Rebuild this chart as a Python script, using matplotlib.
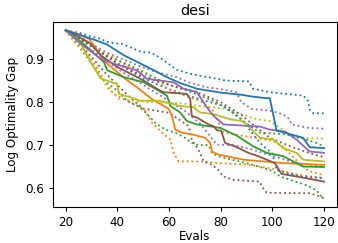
import matplotlib
matplotlib.use("Agg")
import matplotlib.pyplot as plt

plt.rcParams["font.size"] = 8.6
plt.rcParams["xtick.major.size"] = 3
plt.rcParams["ytick.major.size"] = 3

# solid runs: (evals, log optimality gap) breakpoints
blue_x = [20, 26, 31, 36, 42.5, 51.5, 59.2, 64, 70.8, 80, 88, 92, 97.8, 99, 101.6, 111.9, 114.4, 120]
blue_y = [0.967, 0.955, 0.945, 0.934, 0.909, 0.882, 0.858, 0.845, 0.831, 0.822, 0.817, 0.813, 0.809, 0.809, 0.734, 0.717, 0.695, 0.693]

orange_x = [20, 24, 29, 35.4, 43.1, 48.3, 53.4, 59.9, 61.1, 62.4, 65, 68.8, 73.9, 75.9, 76.6, 79.1, 88.8, 104.2, 120]
orange_y = [0.967, 0.96, 0.948, 0.893, 0.854, 0.831, 0.807, 0.784, 0.768, 0.736, 0.729, 0.725, 0.717, 0.705, 0.685, 0.678, 0.666, 0.658, 0.654]

green_x = [20, 25, 29.6, 34.8, 36.1, 42.5, 50.2, 55, 59.2, 60.5, 64.3, 66.9, 70.8, 79.8, 86.2, 92.6, 97.8, 104.2, 111.9, 120]
green_y = [0.967, 0.945, 0.921, 0.893, 0.874, 0.858, 0.846, 0.83, 0.815, 0.791, 0.776, 0.756, 0.748, 0.740, 0.722, 0.697, 0.682, 0.674, 0.650, 0.649]

purple_x = [20, 26, 33.5, 38.7, 47.6, 51.5, 61.8, 65.6, 70.8, 74.6, 77.2, 81.1, 95.2, 99, 104.2, 105.4, 109.3, 114.4, 120]
purple_y = [0.967, 0.935, 0.901, 0.889, 0.874, 0.854, 0.846, 0.831, 0.823, 0.788, 0.768, 0.748, 0.743, 0.736, 0.732, 0.729, 0.713, 0.685, 0.682]

brown_x = [20, 24, 29.6, 33.5, 39.9, 45.1, 50.2, 55.3, 57.9, 66.9, 68.2, 68.8, 70.8, 75.3, 77.2, 78.5, 80.2, 81.7, 85.5, 90.7, 94.6, 101, 103.5, 111.2, 120]
brown_y = [0.967, 0.955, 0.936, 0.909, 0.882, 0.866, 0.850, 0.831, 0.823, 0.819, 0.807, 0.768, 0.764, 0.748, 0.744, 0.735, 0.733, 0.705, 0.697, 0.682, 0.674, 0.658, 0.633, 0.625, 0.615]

olive_x = [20, 26, 30, 33.5, 39.9, 40.6, 45.1, 48.9, 56.6, 64.3, 69.5, 72, 77.2, 83.6, 88.1, 90, 95.2, 100.3, 104.2, 109.3, 111.9, 120]
olive_y = [0.967, 0.935, 0.89, 0.855, 0.842, 0.819, 0.811, 0.803, 0.803, 0.791, 0.788, 0.776, 0.772, 0.760, 0.756, 0.748, 0.717, 0.713, 0.693, 0.682, 0.666, 0.662]

# dotted runs
blue_d1_x = [20, 26, 30, 33, 37, 42, 46, 49, 53, 56, 58, 63, 68, 73, 77, 82, 91, 92.5, 99, 112, 113.8, 114.4, 115.8, 120]
blue_d1_y = [0.967, 0.960, 0.952, 0.948, 0.938, 0.935, 0.925, 0.917, 0.915, 0.905, 0.897, 0.875, 0.866, 0.860, 0.856, 0.850, 0.848, 0.831, 0.823, 0.815, 0.803, 0.783, 0.774, 0.774]

blue_d2_x = [20, 30, 40, 50, 60, 70, 81, 88, 95.2, 100, 101.6, 110.6, 120]
blue_d2_y = [0.967, 0.93, 0.89, 0.855, 0.83, 0.81, 0.791, 0.76, 0.705, 0.68, 0.642, 0.627, 0.623]

orange_d1_x = [20, 24, 27, 32, 36, 38.7, 43.8, 50.2, 53.4, 57.3, 60.5, 61.8, 63.7, 74, 78.5, 90, 100, 110, 120]
orange_d1_y = [0.967, 0.945, 0.921, 0.882, 0.835, 0.819, 0.803, 0.784, 0.752, 0.729, 0.713, 0.682, 0.662, 0.662, 0.658, 0.655, 0.645, 0.631, 0.623]

orange_d2_x = [20, 25, 30, 37, 45, 52, 60, 66, 72, 77, 81, 90, 100, 104, 110, 114, 120]
orange_d2_y = [0.967, 0.95, 0.93, 0.909, 0.88, 0.86, 0.83, 0.815, 0.803, 0.78, 0.729, 0.72, 0.71, 0.697, 0.66, 0.64, 0.63]

green_d1_x = [20, 25, 31, 34.8, 39.9, 43.8, 48.9, 50.9, 54.6, 58.5, 62.4, 66.2, 68.8, 71.4, 75.3, 76.6, 79.1, 85, 92, 100, 103, 113, 117, 119.6, 120]
green_d1_y = [0.967, 0.93, 0.882, 0.850, 0.827, 0.803, 0.787, 0.776, 0.752, 0.736, 0.729, 0.717, 0.705, 0.700, 0.700, 0.682, 0.674, 0.665, 0.655, 0.64, 0.627, 0.607, 0.595, 0.576, 0.576]

green_d2_x = [20, 28, 35, 45, 51.5, 60, 70, 77, 84, 90, 95, 105, 112, 117, 120]
green_d2_y = [0.967, 0.94, 0.91, 0.885, 0.866, 0.84, 0.82, 0.803, 0.78, 0.75, 0.729, 0.725, 0.715, 0.705, 0.697]

purple_d1_x = [20, 25, 30, 36, 42, 48, 55, 63, 68, 74, 80, 86, 88, 92, 99, 104, 106.7, 107.4, 114, 120]
purple_d1_y = [0.967, 0.955, 0.935, 0.915, 0.900, 0.885, 0.870, 0.858, 0.845, 0.835, 0.830, 0.823, 0.800, 0.784, 0.780, 0.772, 0.760, 0.748, 0.740, 0.738]

purple_d2_x = [20, 28, 35, 42, 50, 58, 66, 72, 78.5, 85, 92, 100, 108, 120]
purple_d2_y = [0.967, 0.93, 0.90, 0.87, 0.84, 0.81, 0.78, 0.75, 0.701, 0.70, 0.69, 0.675, 0.66, 0.65]

brown_d1_x = [20, 25, 30, 35, 40, 45, 50, 55, 60, 63.7, 67.6, 68.8, 71.4, 73.4, 76.6, 79.1, 81, 85, 95, 96.5, 97.8, 114.4, 118.3, 120]
brown_d1_y = [0.967, 0.94, 0.905, 0.87, 0.84, 0.81, 0.785, 0.78, 0.775, 0.760, 0.744, 0.713, 0.689, 0.662, 0.654, 0.642, 0.627, 0.619, 0.615, 0.599, 0.589, 0.588, 0.581, 0.576]

brown_d2_x = [20, 30, 40, 50, 60, 70, 80, 88, 93, 99, 107, 115, 120]
brown_d2_y = [0.967, 0.93, 0.89, 0.86, 0.84, 0.825, 0.80, 0.77, 0.745, 0.717, 0.697, 0.68, 0.672]

olive_d1_x = [20, 24, 27, 31, 35, 38, 40.6, 52, 65, 73, 81, 88, 94, 99, 103, 109, 120]
olive_d1_y = [0.967, 0.935, 0.917, 0.88, 0.85, 0.825, 0.807, 0.80, 0.797, 0.79, 0.785, 0.772, 0.76, 0.756, 0.74, 0.717, 0.715]

dotted = [
    (blue_d1_x, blue_d1_y, "tab:blue"),
    (orange_d1_x, orange_d1_y, "tab:orange"),
    (green_d1_x, green_d1_y, "tab:green"),
    (purple_d1_x, purple_d1_y, "tab:purple"),
    (brown_d1_x, brown_d1_y, "tab:brown"),
    (olive_d1_x, olive_d1_y, "tab:olive"),
    (blue_d2_x, blue_d2_y, "tab:blue"),
    (orange_d2_x, orange_d2_y, "tab:orange"),
    (green_d2_x, green_d2_y, "tab:green"),
    (purple_d2_x, purple_d2_y, "tab:purple"),
    (brown_d2_x, brown_d2_y, "tab:brown"),
]
solid = [
    (orange_x, orange_y, "tab:orange"),
    (green_x, green_y, "tab:green"),
    (olive_x, olive_y, "tab:olive"),
    (brown_x, brown_y, "tab:brown"),
    (purple_x, purple_y, "tab:purple"),
    (blue_x, blue_y, "tab:blue"),
]

fig = plt.figure(figsize=(3.38, 2.43), dpi=100)
ax = fig.add_axes([0.156, 0.149, 0.841, 0.761])

for xs, ys, c in dotted:
    ax.plot(xs, ys, ls=":", color=c, lw=1.3)
for xs, ys, c in solid:
    ax.plot(xs, ys, ls="-", color=c, lw=1.3)

ax.set_xticks([20, 40, 60, 80, 100, 120])
ax.set_yticks([0.6, 0.7, 0.8, 0.9])
ax.set_xlabel("Evals", labelpad=1)
ax.set_ylabel("Log Optimality Gap")
ax.set_title("desi", pad=5)

fig.savefig("out.png", dpi=100)
